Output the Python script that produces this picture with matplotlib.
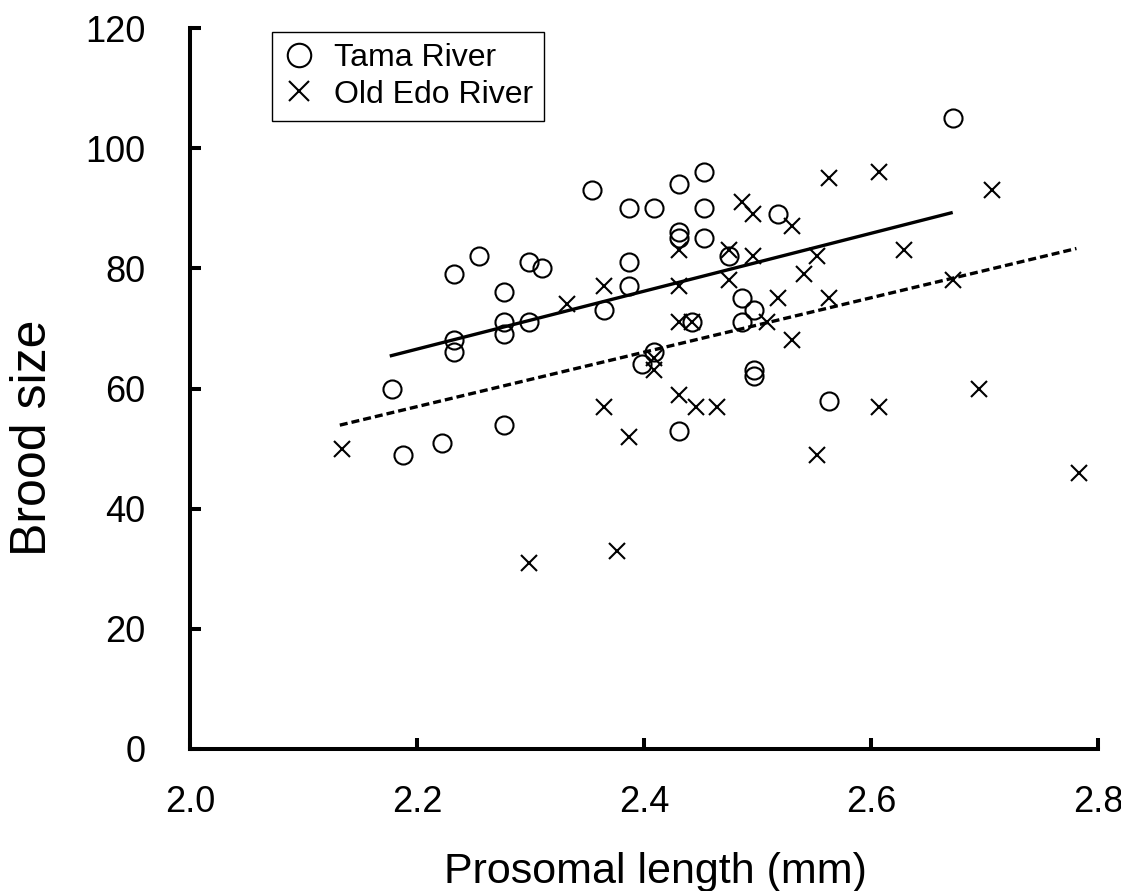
import matplotlib
matplotlib.use("Agg")
import matplotlib.pyplot as plt

# ── Data ──────────────────────────────────────────────────────────────

tama_length = [2.178, 2.188, 2.222, 2.233, 2.233, 2.233, 2.255, 2.277, 2.277, 2.277,
               2.277, 2.299, 2.310, 2.299, 2.354, 2.365, 2.387, 2.409, 2.387, 2.387,
               2.398, 2.409, 2.431, 2.431, 2.431, 2.453, 2.453, 2.453, 2.442, 2.431,
               2.475, 2.486, 2.486, 2.497, 2.497, 2.497, 2.518, 2.563, 2.672]
tama_brood = [60, 49, 51, 79, 68, 66, 82, 76, 71, 69,
              54, 81, 80, 71, 93, 73, 90, 90, 81, 77,
              64, 66, 94, 86, 85, 96, 90, 85, 71, 53,
              82, 75, 71, 73, 63, 62, 89, 58, 105]

edo_length = [2.134, 2.299, 2.332, 2.365, 2.365, 2.376, 2.387, 2.409, 2.409, 2.431,
              2.431, 2.431, 2.442, 2.431, 2.446, 2.464, 2.475, 2.475, 2.486, 2.496,
              2.496, 2.508, 2.518, 2.530, 2.530, 2.541, 2.552, 2.552, 2.563, 2.563,
              2.607, 2.607, 2.629, 2.672, 2.695, 2.707, 2.783]
edo_brood = [50, 31, 74, 77, 57, 33, 52, 65, 63, 83,
             77, 71, 71, 59, 57, 57, 83, 78, 91, 89,
             82, 71, 75, 87, 68, 79, 82, 49, 95, 75,
             96, 57, 83, 78, 60, 93, 46]

# regression lines (end points)
tama_fit_x = [2.176, 2.672]
tama_fit_y = [65.4, 89.3]
edo_fit_x = [2.132, 2.781]
edo_fit_y = [53.9, 83.3]

x_ticks = [2.0, 2.2, 2.4, 2.6, 2.8]
y_ticks = [0, 20, 40, 60, 80, 100, 120]

plt.rcParams["font.family"] = ["Liberation Sans", "DejaVu Sans"]

fig = plt.figure(figsize=(11.21, 8.91), dpi=100)
ax = fig.add_axes([190 / 1121, 1 - 749 / 891, 908 / 1121, 721 / 891])

ax.plot(tama_length, tama_brood, linestyle="none", marker="o", markersize=13,
        markerfacecolor="none", markeredgecolor="black", markeredgewidth=1.5,
        label="Tama River", clip_on=False)
ax.plot(edo_length, edo_brood, linestyle="none", marker="x", markersize=11,
        color="black", markeredgewidth=1.5, label="Old Edo River", clip_on=False)

ax.plot(tama_fit_x, tama_fit_y, color="black", linewidth=2.4, solid_capstyle="butt")
ax.plot(edo_fit_x, edo_fit_y, color="black", linewidth=2.4, dashes=(2.4, 1.2))

ax.set_xlim(2.0, 2.8)
ax.set_ylim(0, 120)
ax.set_xticks(x_ticks)
ax.set_xticklabels([f"{v:.1f}" for v in x_ticks])
ax.set_yticks(y_ticks)

for side in ("top", "right"):
    ax.spines[side].set_visible(False)
for side in ("left", "bottom"):
    ax.spines[side].set_linewidth(2.9)
    ax.spines[side].set_capstyle("projecting")

ax.tick_params(axis="both", direction="in", length=8, width=2.9, labelsize=26)
ax.tick_params(axis="x", pad=26)
ax.tick_params(axis="y", pad=32)

leg = ax.legend(loc="upper left", bbox_to_anchor=(0.090, 0.9945), borderaxespad=0,
                fontsize=23, markerscale=1.3, handlelength=1.0, handletextpad=0.6,
                labelspacing=0.2, borderpad=0.35, fancybox=False, framealpha=1,
                edgecolor="black")
leg.get_frame().set_linewidth(1.0)

fig.text(655 / 1121, 1 - 883 / 891, "Prosomal length (mm)", fontsize=31,
         ha="center", va="baseline")
fig.text(33 / 1121, 1 - 438 / 891, "Brood size", fontsize=36, rotation=90,
         ha="center", va="center")

fig.savefig("out.png", dpi=100)
plt.close()
